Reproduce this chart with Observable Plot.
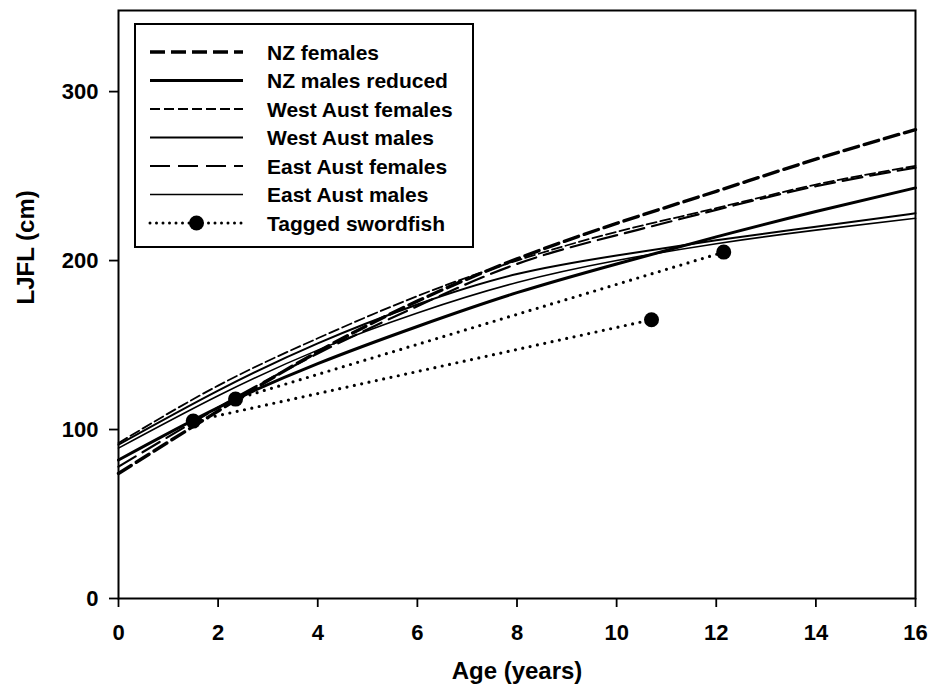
<!DOCTYPE html>
<html>
<head>
<meta charset="utf-8">
<script src="https://cdn.jsdelivr.net/npm/d3@7"></script>
<script src="https://cdn.jsdelivr.net/npm/@observablehq/plot@0.6"></script>
<style>
  body { margin: 0; background: #fff; }
  #chart { width: 933px; height: 696px; }
  #chart svg { font-family: "Liberation Sans", Arial, sans-serif; }
</style>
</head>
<body>
<div id="chart"></div>
<script>
// Age (years) at which each growth curve is sampled
const ages = [0, 2, 4, 6, 8, 10, 12, 14, 16];

// Lower-jaw fork length (cm) of each growth curve at those ages
const nzFemales       = [74, 111, 146, 176, 201, 222, 241, 260, 277.5];
const nzMalesReduced  = [82, 113, 139, 161, 181, 198, 214, 229, 243];
const westAustFemales = [92, 126, 154, 179, 200, 217, 231, 245, 256];
const westAustMales   = [91, 123, 151, 174, 192, 203, 212, 220, 228];
const eastAustFemales = [78, 113, 145, 173, 198, 215, 230, 244, 255];
const eastAustMales   = [89, 120, 147, 169, 187, 200, 210, 218, 225];

// Tagged swordfish: release and recapture (age, length)
const tagNames = ["Fish A", "Fish B"];
const tagAges = [[1.5, 10.7], [2.35, 12.15]];
const tagLengths = [[105, 165], [118, 205]];

// Axis ticks
const xTicks = [0, 2, 4, 6, 8, 10, 12, 14, 16];
const yTicks = [0, 100, 200, 300];

const curves = [
  {name: "NZ females",        values: nzFemales,       width: 3.4, dash: "15,6"},
  {name: "NZ males reduced",  values: nzMalesReduced,  width: 3.0, dash: null},
  {name: "West Aust females", values: westAustFemales, width: 1.8, dash: "10,4"},
  {name: "West Aust males",   values: westAustMales,   width: 2.0, dash: null},
  {name: "East Aust females", values: eastAustFemales, width: 2.2, dash: "20,8"},
  {name: "East Aust males",   values: eastAustMales,   width: 1.6, dash: null}
];

const tagRows = tagNames.flatMap((fish, i) =>
  tagAges[i].map((a, j) => ({fish, age: a, len: tagLengths[i][j]})));

const marks = [];
for (const c of curves) {
  const rows = ages.map((a, i) => ({age: a, len: c.values[i]}));
  marks.push(Plot.line(rows, {
    x: "age", y: "len", stroke: "#000", strokeWidth: c.width,
    strokeDasharray: c.dash ?? undefined, curve: "natural"
  }));
}
marks.push(
  Plot.line(tagRows, {x: "age", y: "len", z: "fish", stroke: "#000",
    strokeWidth: 3.2, strokeDasharray: "0,7.5", strokeLinecap: "round"}),
  Plot.dot(tagRows, {x: "age", y: "len", r: 7.5, fill: "#000", stroke: "none"}),
  Plot.frame({stroke: "#000", strokeWidth: 2}),
  Plot.axisX({ticks: xTicks, tickSize: 9, tickPadding: 17, label: null,
    fontSize: 22, stroke: "#000", strokeWidth: 1.8}),
  Plot.axisY({ticks: yTicks, tickSize: 9, tickPadding: 11, label: null,
    fontSize: 22, stroke: "#000", strokeWidth: 1.8}),
  Plot.text(["Age (years)"], {frameAnchor: "bottom", dy: 80, text: d => d,
    fontSize: 24, fill: "#000"}),
  Plot.text(["LJFL (cm)"], {frameAnchor: "left", dx: -92, text: d => d,
    rotate: -90, fontSize: 24, fill: "#000"})
);

const plot = Plot.plot({
  width: 933,
  height: 696,
  marginLeft: 118,
  marginRight: 18,
  marginTop: 10,
  marginBottom: 98,
  style: {background: "#fff", color: "#000", fontSize: "22px", fontWeight: "bold",
    fontFamily: "Liberation Sans, Arial, sans-serif"},
  x: {domain: [0, 16]},
  y: {domain: [0, 348]},
  marks
});

document.getElementById("chart").append(plot);

// Legend box in the upper-left corner of the plot area
const svg = d3.select(plot);
const lg = svg.append("g").attr("class", "legend").attr("text-anchor", "start");
const box = {x: 135, y: 24, w: 338, h: 223};
lg.append("rect")
  .attr("x", box.x).attr("y", box.y).attr("width", box.w).attr("height", box.h)
  .attr("fill", "#fff").attr("stroke", "#000").attr("stroke-width", 2);

const entries = [...curves.map(c => ({name: c.name, width: c.width, dash: c.dash})),
  {name: "Tagged swordfish", tagged: true}];
const rowY0 = 52, rowStep = 28.5, lineX0 = 150, lineX1 = 243, textX = 267;
entries.forEach((e, i) => {
  const y = rowY0 + i * rowStep;
  const ln = lg.append("line")
    .attr("x1", lineX0).attr("x2", lineX1).attr("y1", y).attr("y2", y)
    .attr("stroke", "#000");
  if (e.tagged) {
    ln.attr("stroke-width", 3).attr("stroke-dasharray", "0,6.5").attr("stroke-linecap", "round");
    lg.append("circle").attr("cx", (lineX0 + lineX1) / 2).attr("cy", y).attr("r", 7.5).attr("fill", "#000");
  } else {
    ln.attr("stroke-width", e.width);
    if (e.dash) ln.attr("stroke-dasharray", e.dash);
  }
  lg.append("text")
    .attr("x", textX).attr("y", y).attr("dy", "0.36em")
    .attr("text-anchor", "start")
    .attr("font-size", 21).attr("fill", "#000")
    .text(e.name);
});
</script>
</body>
</html>
